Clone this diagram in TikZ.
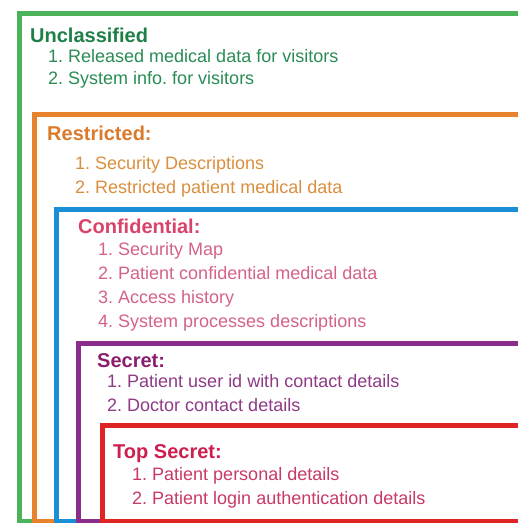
\documentclass[tikz,border=0pt]{standalone}
\usepackage{fontspec}
\setmainfont{Liberation Sans}
\frenchspacing
\definecolor{gstroke}{HTML}{4DB35A}
\definecolor{gtitle}{HTML}{1E8047}
\definecolor{gtext}{HTML}{2A8C55}
\definecolor{ostroke}{HTML}{E8822C}
\definecolor{otitle}{HTML}{D97B2B}
\definecolor{otext}{HTML}{DB8F3E}
\definecolor{bstroke}{HTML}{1B8FD6}
\definecolor{ctitle}{HTML}{D9426A}
\definecolor{ctext}{HTML}{D4628A}
\definecolor{pstroke}{HTML}{8B2D8B}
\definecolor{ptitle}{HTML}{8A1F6E}
\definecolor{ptext}{HTML}{8E3A86}
\definecolor{rstroke}{HTML}{E02424}
\definecolor{rtitle}{HTML}{CC1F4F}
\definecolor{rtext}{HTML}{C83A66}
\tikzset{
  lvlbox/.style={line width=5pt},
  ttl/.style={anchor=base west, inner sep=0pt, font=\fontsize{20}{24}\selectfont\bfseries},
  itm/.style={anchor=base west, inner sep=0pt, font=\fontsize{18}{22}\selectfont},
}
\begin{document}
\begin{tikzpicture}[x=1pt,y=-1pt]
\useasboundingbox (0,0) rectangle (518,523);
\fill[white] (0,0) rectangle (518,523);
\begin{scope}
\clip (0,0) rectangle (518,523);
\draw[lvlbox, gstroke] (19,13) rectangle (560,521);
\draw[lvlbox, ostroke] (34,114) rectangle (560,521);
\draw[lvlbox, bstroke] (56,209) rectangle (560,521);
\draw[lvlbox, pstroke] (78,343) rectangle (560,521);
\draw[lvlbox, rstroke] (102,425) rectangle (560,521);
\end{scope}
% Unclassified
\node[ttl, text=gtitle] (u0) at (30,42) {Unclassified};
\node[itm, text=gtext] (u1) at (48,62.5) {1. Released medical data for visitors};
\node[itm, text=gtext] (u2) at (48,84.5) {2. System info. for visitors};
% Restricted
\node[ttl, text=otitle] (r0) at (47,140) {Restricted:};
\node[itm, text=otext] (r1) at (75,169) {1. Security Descriptions};
\node[itm, text=otext] (r2) at (75,193) {2. Restricted patient medical data};
% Confidential
\node[ttl, text=ctitle] (c0) at (78,233) {Confidential:};
\node[itm, text=ctext] (c1) at (98,255.5) {1. Security Map};
\node[itm, text=ctext] (c2) at (98,279.5) {2. Patient confidential medical data};
\node[itm, text=ctext] (c3) at (98,303.5) {3. Access history};
\node[itm, text=ctext] (c4) at (98,327.5) {4. System processes descriptions};
% Secret
\node[ttl, text=ptitle] (s0) at (97,367) {Secret:};
\node[itm, text=ptext] (s1) at (107,387.5) {1. Patient user id with contact details};
\node[itm, text=ptext] (s2) at (107,411.5) {2. Doctor contact details};
% Top Secret
\node[ttl, text=rtitle] (t0) at (113,458) {Top Secret:};
\node[itm, text=rtext] (t1) at (132,480.5) {1. Patient personal details};
\node[itm, text=rtext] (t2) at (132,504.5) {2. Patient login authentication details};
\end{tikzpicture}
\end{document}
